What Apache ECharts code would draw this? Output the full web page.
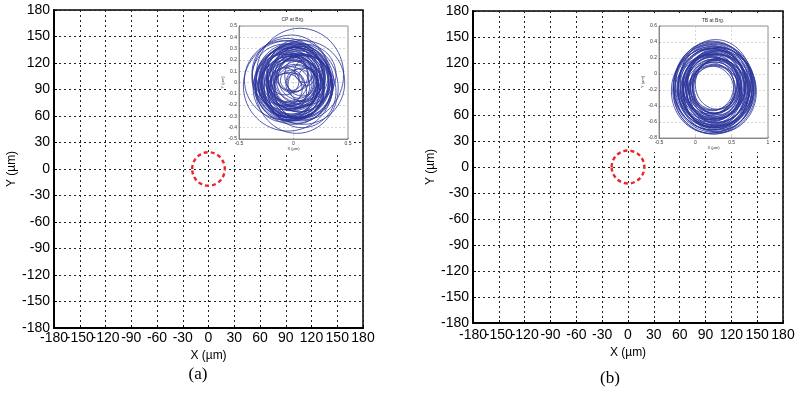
<!DOCTYPE html>
<html><head><meta charset="utf-8">
<script src="https://cdn.jsdelivr.net/npm/echarts@6/dist/echarts.min.js"></script>
<style>html,body{margin:0;padding:0;background:#fff}#c{width:798px;height:399px}</style>
</head><body><div id="c"></div>
<script>
// Main axes range / ticks (µm)
const mainMin = -180, mainMax = 180, mainStep = 30;
// Red dashed clearance circle (µm): [cx, cy, r]
const circleCx = [0], circleCy = [0], circleR = [19];
// Inset (a) "CP at Brg." orbit loops (µm): centres and radii
const aCx = [0.02,-0.03,0.04,-0.05,0.00,0.06,-0.02,0.03,-0.06,0.05,0.01,-0.04,0.07,0.00,0.03,-0.03,0.08,-0.01,0.05,-0.07,0.10,-0.02,0.04,-0.05,0.02,-0.08,0.09,0.00,0.06,-0.05,0.03,-0.02,0.09,-0.08,0.00,
  0.01,-0.01,0.05,-0.04,0.02,-0.06,0.06,0.00,-0.03,0.04,-0.02,0.03,-0.05,0.07,0.00,-0.04,0.09,-0.08,0.02,0.12,-0.06,0.08,-0.09,0.10,0.00,0.03];
const aCy = [0.00,0.02,-0.03,-0.02,0.04,0.02,-0.05,0.05,0.03,-0.06,0.01,0.00,0.00,-0.02,0.03,-0.03,0.06,0.06,-0.01,-0.06,0.10,0.02,0.08,-0.07,-0.08,0.05,-0.04,0.00,0.07,-0.03,-0.05,0.04,0.00,0.02,-0.02,
  -0.01,0.03,0.01,-0.04,0.06,0.00,-0.03,-0.06,0.05,0.02,-0.02,-0.04,0.04,0.04,0.08,-0.08,-0.02,0.01,0.00,0.05,0.09,-0.08,-0.05,0.07,0.03,-0.02];
const aRx = [0.30,0.28,0.31,0.27,0.29,0.26,0.30,0.24,0.25,0.23,0.33,0.32,0.30,0.21,0.19,0.18,0.16,0.14,0.12,0.15,0.09,0.10,0.28,0.29,0.26,0.30,0.27,0.25,0.40,0.41,0.38,0.36,0.38,0.37,0.35,
  0.31,0.29,0.28,0.26,0.27,0.29,0.30,0.27,0.24,0.22,0.23,0.20,0.19,0.21,0.17,0.16,0.14,0.13,0.08,0.07,0.32,0.31,0.28,0.29,0.34,0.32];
const aRy = [0.31,0.30,0.29,0.28,0.27,0.28,0.28,0.26,0.24,0.25,0.33,0.31,0.32,0.22,0.20,0.17,0.18,0.15,0.13,0.14,0.10,0.09,0.30,0.27,0.24,0.29,0.29,0.25,0.41,0.40,0.40,0.38,0.37,0.35,0.35,
  0.30,0.31,0.27,0.27,0.25,0.30,0.28,0.28,0.23,0.24,0.21,0.19,0.21,0.20,0.16,0.17,0.15,0.12,0.08,0.08,0.30,0.32,0.30,0.27,0.32,0.34];
// Inset (b) "TB at Brg." orbit loops (µm)
const bCx = [0.26,0.24,0.28,0.22,0.30,0.25,0.27,0.21,0.31,0.26,0.23,0.29,0.25,0.20,0.32,0.27,0.24,0.28,0.22,0.30,0.26,0.19,0.33,0.24,0.28,0.20,0.34,0.26,
  0.25,0.27,0.23,0.29,0.24,0.28,0.22,0.30,0.26,0.25,0.21,0.31,0.27,0.23,0.29,0.20,0.32,0.26,0.24,0.28];
const bCy = [-0.17,-0.15,-0.19,-0.18,-0.16,-0.13,-0.21,-0.16,-0.20,-0.14,-0.22,-0.12,-0.18,-0.14,-0.18,-0.24,-0.10,-0.16,-0.20,-0.13,-0.19,-0.17,-0.15,-0.25,-0.09,-0.21,-0.22,-0.17,
  -0.16,-0.18,-0.17,-0.15,-0.20,-0.13,-0.15,-0.21,-0.11,-0.23,-0.19,-0.16,-0.15,-0.14,-0.19,-0.12,-0.23,-0.20,-0.13,-0.24];
const bRx = [0.56,0.54,0.52,0.50,0.51,0.48,0.47,0.45,0.44,0.43,0.41,0.40,0.38,0.37,0.36,0.35,0.34,0.32,0.31,0.30,0.29,0.42,0.46,0.53,0.49,0.53,0.50,0.33,
  0.55,0.51,0.48,0.46,0.44,0.42,0.40,0.39,0.37,0.36,0.34,0.33,0.31,0.30,0.35,0.47,0.48,0.57,0.52,0.45];
const bRy = [0.56,0.55,0.53,0.52,0.49,0.50,0.46,0.47,0.45,0.42,0.43,0.41,0.39,0.36,0.37,0.34,0.35,0.33,0.30,0.31,0.30,0.40,0.48,0.50,0.52,0.53,0.51,0.32,
  0.54,0.50,0.49,0.45,0.46,0.43,0.39,0.40,0.38,0.35,0.33,0.35,0.30,0.32,0.36,0.48,0.47,0.55,0.54,0.43];
// Inset axis ranges
const aXTicks = {min:-0.5, max:0.5, step:0.5}, aYTicks = {min:-0.5, max:0.5, step:0.1};
const bXTicks = {min:-0.5, max:1, step:0.5},  bYTicks = {min:-0.8, max:0.6, step:0.2};

function zip(...cols){ return cols[0].map((_, i) => cols.map(c => c[i])); }

function ellipseRender(color, width, dash){
  return function(params, api){
    const c = api.coord([api.value(0), api.value(1)]);
    const rx = api.size([api.value(2), 0])[0];
    const ry = api.size([0, api.value(3)])[1];
    return {type:'ellipse', shape:{cx:c[0], cy:c[1], rx:rx, ry:ry},
      style:{fill:'none', stroke:color, lineWidth:width, lineDash:dash}};
  };
}

const FONT = 'Liberation Sans, Arial, sans-serif';

function mainX(gi){
  return {type:'value', gridIndex:gi, min:mainMin, max:mainMax, interval:mainStep,
    name:'X (µm)', nameLocation:'middle', nameGap:gi===0?18:21,
    nameTextStyle:{fontFamily:FONT, fontSize:12, color:'#000', verticalAlign:'top'},
    axisLine:{show:true, onZero:false, lineStyle:{color:'#000', width:2}},
    axisTick:{show:true, inside:true, length:3, lineStyle:{color:'#000'}},
    axisLabel:{fontFamily:FONT, fontSize:14, color:'#000', margin:gi===0?3:5, hideOverlap:false, showMinLabel:false, showMaxLabel:true},
    splitLine:{show:true, lineStyle:{color:'#222', width:1, type:[2,3]}}};
}
// extra axis only carrying the "-180" label at the left end
function mainXMinLabel(gi){
  return {type:'value', gridIndex:gi, min:mainMin, max:mainMax, interval:mainStep, position:'bottom',
    axisLine:{show:false}, axisTick:{show:false}, splitLine:{show:false},
    axisLabel:{fontFamily:FONT, fontSize:14, color:'#000', margin:gi===0?3:5, showMinLabel:true, showMaxLabel:false,
      formatter: v => v === mainMin ? String(v) : ''}};
}
function mainY(gi){
  return {type:'value', gridIndex:gi, min:mainMin, max:mainMax, interval:mainStep,
    name:'Y (µm)', nameLocation:'middle', nameGap:33, nameRotate:90,
    nameTextStyle:{fontFamily:FONT, fontSize:12, color:'#000'},
    axisLine:{show:true, onZero:false, lineStyle:{color:'#000', width:2}},
    axisTick:{show:true, inside:true, length:3, lineStyle:{color:'#000'}},
    axisLabel:{fontFamily:FONT, fontSize:14, color:'#000', margin:4, hideOverlap:false, showMinLabel:true, showMaxLabel:true},
    splitLine:{show:true, lineStyle:{color:'#222', width:1, type:[2,3]}}};
}
function insetAxis(dim, gi, t){
  const o = {type:'value', gridIndex:gi, min:t.min, max:t.max, interval:t.step, z:60,
    name: dim==='x' ? 'X (µm)' : 'Y (µm)', nameLocation:'middle', nameGap: dim==='x'?6:9,
    nameTextStyle:{fontFamily:FONT, fontSize:4, color:'#333'},
    axisLine:{show:true, onZero:false, lineStyle:{color:'#777', width:0.8}},
    axisTick:{show:true, inside:true, length:1.5, lineStyle:{color:'#777', width:0.6}},
    axisLabel:{fontFamily:FONT, fontSize:5, color:'#333', margin:2, hideOverlap:false, showMinLabel:true, showMaxLabel:true,
      formatter: v => String(Math.round(v*10)/10)},
    splitLine:{show:true, lineStyle:{color:'#bbb', width:0.6, type:[2,2]}}};
  if (dim==='y') o.nameRotate = 90;
  return o;
}

const chart = echarts.init(document.getElementById('c'), null, {renderer:'canvas'});
const loopColor = 'rgba(42,52,155,0.8)';
chart.setOption({
  animation:false,
  backgroundColor:'#fff',
  grid:[
    {left:54, top:10, width:309, height:318, show:true, borderColor:'#000', borderWidth:1.5, backgroundColor:'transparent'},
    {left:473, top:11, width:310, height:312, show:true, borderColor:'#000', borderWidth:1.5, backgroundColor:'transparent'},
    {left:239, top:26, width:109, height:113, show:true, borderColor:'#777', borderWidth:0.8, backgroundColor:'#fff', z:55},
    {left:659, top:26, width:109, height:112, show:true, borderColor:'#777', borderWidth:0.8, backgroundColor:'#fff', z:55}
  ],
  xAxis:[mainX(0), mainX(1), insetAxis('x',2,aXTicks), insetAxis('x',3,bXTicks), mainXMinLabel(0), mainXMinLabel(1)],
  yAxis:[mainY(0), mainY(1), insetAxis('y',2,aYTicks), insetAxis('y',3,bYTicks)],
  graphic:[
    {type:'rect', shape:{x:228, y:13, width:125, height:139}, style:{fill:'#fff'}, z:50, silent:true},
    {type:'rect', shape:{x:643, y:13, width:128, height:139}, style:{fill:'#fff'}, z:50, silent:true},
    {type:'text', x:293, y:20, z:60, style:{text:'CP at Brg.', font:'5px '+FONT, fill:'#333', textAlign:'center', textVerticalAlign:'middle'}},
    {type:'text', x:713, y:21, z:60, style:{text:'TB at Brg.', font:'5px '+FONT, fill:'#333', textAlign:'center', textVerticalAlign:'middle'}},
    {type:'text', x:198, y:375, z:60, style:{text:'(a)', font:'17px "Liberation Serif", "Times New Roman", serif', fill:'#000', textAlign:'center', textVerticalAlign:'middle'}},
    {type:'text', x:610, y:379, z:60, style:{text:'(b)', font:'17px "Liberation Serif", "Times New Roman", serif', fill:'#000', textAlign:'center', textVerticalAlign:'middle'}}
  ],
  series:[
    {type:'custom', xAxisIndex:0, yAxisIndex:0, z:5, silent:true, clip:false,
      data: zip(circleCx, circleCy, circleR, circleR), renderItem: ellipseRender('#e8262c', 2.4, [4,3])},
    {type:'custom', xAxisIndex:1, yAxisIndex:1, z:5, silent:true, clip:false,
      data: zip(circleCx, circleCy, circleR, circleR), renderItem: ellipseRender('#e8262c', 2.4, [4,3])},
    {type:'custom', xAxisIndex:2, yAxisIndex:2, z:61, silent:true, clip:false,
      data: zip(aCx, aCy, aRx, aRy), renderItem: ellipseRender(loopColor, 1.0, null)},
    {type:'custom', xAxisIndex:3, yAxisIndex:3, z:61, silent:true, clip:false,
      data: zip(bCx, bCy, bRx, bRy), renderItem: ellipseRender(loopColor, 1.0, null)}
  ]
});
</script></body></html>
